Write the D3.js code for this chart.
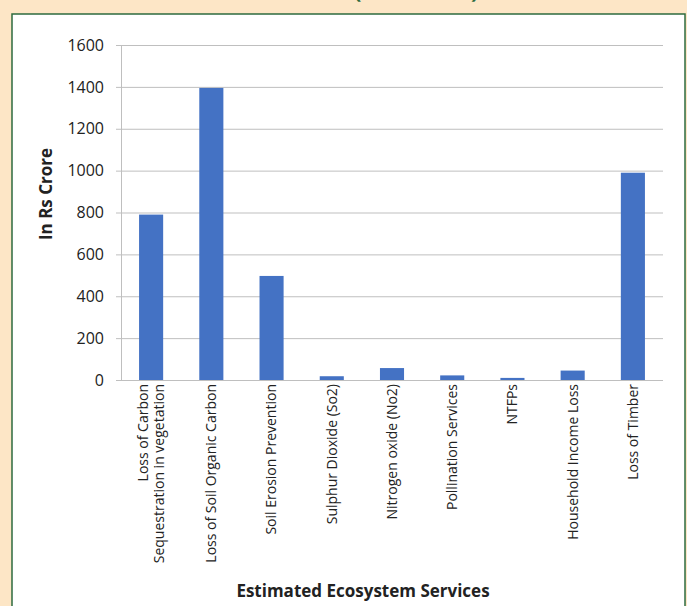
<!DOCTYPE html>
<html>
<head>
<meta charset="utf-8">
<script src="https://cdn.jsdelivr.net/npm/d3@7"></script>
<style>
  html, body { margin: 0; padding: 0; background: #fde6c6; }
  svg { display: block; }
</style>
</head>
<body>
<script>
// data
const categories = [
  ["Loss of Carbon", "Sequestration in vegetation"],
  ["Loss of Soil Organic Carbon"],
  ["Soil Erosion Prevention"],
  ["Sulphur Dioxide (So2)"],
  ["Nitrogen oxide (No2)"],
  ["Pollination Services"],
  ["NTFPs"],
  ["Household Income Loss"],
  ["Loss of Timber"]
];
const values = [790, 1395, 497, 18, 57, 22, 10, 45, 990];
const yTicks = [0, 200, 400, 600, 800, 1000, 1200, 1400, 1600];

const W = 687, H = 606;
const svg = d3.select("body").append("svg").attr("width", W).attr("height", H);

svg.append("rect").attr("width", W).attr("height", H).attr("fill", "#fde6c6");

// title cut off at top, only the parentheses show
svg.append("text").attr("x", 354).attr("y", -2).attr("fill", "#2e6b3f")
  .style("font-family", "Open Sans").style("font-weight", "bold").style("font-size", "22px")
  .text("(");
svg.append("text").attr("x", 471).attr("y", -2).attr("fill", "#2e6b3f")
  .style("font-family", "Open Sans").style("font-weight", "bold").style("font-size", "22px")
  .text(")");

// white panel with green border
svg.append("rect").attr("x", 12).attr("y", 14).attr("width", 673).attr("height", 620)
  .attr("fill", "#fff").attr("stroke", "#2e6b3f").attr("stroke-width", 1.5);

const pLeft = 121, pRight = 663, pTop = 45, pBottom = 380;

const x = d3.scaleBand()
  .domain(categories.map((c, i) => i))
  .range([pLeft, pRight])
  .paddingInner(0.6).paddingOuter(0.3);

const y = d3.scaleLinear().domain([0, 1600]).range([pBottom, pTop]);

// gridlines + y axis
const yAxis = svg.append("g")
  .attr("transform", `translate(${pLeft},0)`)
  .call(d3.axisLeft(y).tickValues(yTicks).tickFormat(d3.format("d")).tickSize(5).tickPadding(12));
yAxis.select(".domain").attr("stroke", "#bfbfbf").attr("d", `M0.5,${pTop}V${pBottom}`);
yAxis.selectAll(".tick line").attr("stroke", "#bfbfbf");
yAxis.selectAll(".tick text")
  .style("font-family", "Open Sans").style("font-size", "16px").attr("fill", "#222");
yAxis.selectAll(".tick").append("line")
  .attr("x1", 0).attr("x2", pRight - pLeft).attr("stroke", "#bfbfbf");

// bars
svg.append("g").selectAll("rect")
  .data(values)
  .join("rect")
  .attr("x", (d, i) => x(i))
  .attr("y", d => y(d))
  .attr("width", x.bandwidth())
  .attr("height", d => y(0) - y(d))
  .attr("fill", "#4472c4");

// category labels, rotated
const lab = svg.append("g").selectAll("g")
  .data(categories)
  .join("g")
  .attr("transform", (d, i) => `translate(${x(i) + x.bandwidth() / 2},${pBottom + 4}) rotate(-90)`);
lab.each(function (lines) {
  const n = lines.length;
  d3.select(this).selectAll("text")
    .data(lines)
    .join("text")
    .attr("x", 0)
    .attr("y", (l, j) => (j - (n - 1) / 2) * 16)
    .attr("dy", "0.35em")
    .attr("text-anchor", "end")
    .attr("fill", "#222")
    .style("font-family", "Open Sans").style("font-size", "14px")
    .text(l => l);
});

// axis titles
svg.append("text")
  .attr("x", 363).attr("y", 597)
  .attr("text-anchor", "middle")
  .attr("fill", "#222")
  .style("font-family", "Open Sans").style("font-weight", "bold").style("font-size", "17px")
  .text("Estimated Ecosystem Services");

svg.append("text")
  .attr("transform", "translate(52,194) rotate(-90)")
  .attr("text-anchor", "middle")
  .attr("fill", "#222")
  .style("font-family", "Open Sans").style("font-weight", "bold").style("font-size", "17px")
  .text("In Rs Crore");
</script>
</body>
</html>
